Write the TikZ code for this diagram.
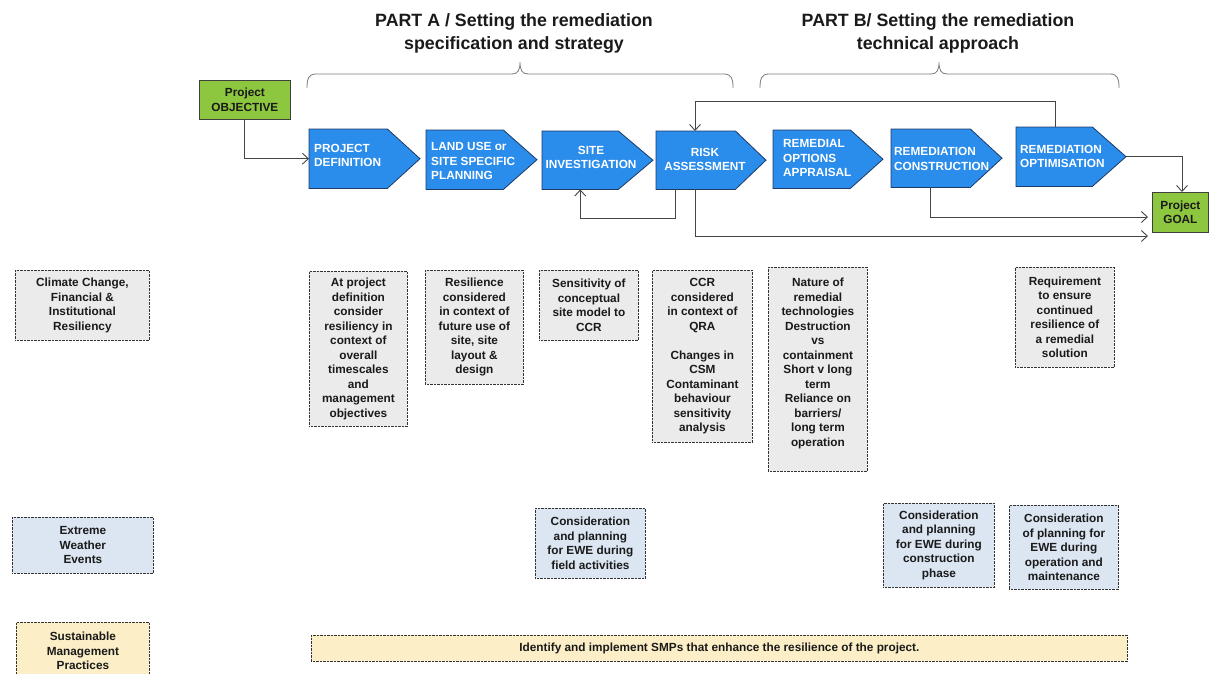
\documentclass[tikz,border=0pt]{standalone}
\usepackage{fontspec}
\setmainfont{Liberation Sans}
\usetikzlibrary{arrows.meta,calc}
\definecolor{chevblue}{HTML}{2A8CEB}
\definecolor{chevedge}{HTML}{1E3A66}
\definecolor{goalgreen}{HTML}{8DC63F}
\definecolor{boxgrey}{HTML}{EBEBEB}
\definecolor{boxblue}{HTML}{DCE6F2}
\definecolor{boxyellow}{HTML}{FCEFC7}
\definecolor{linegrey}{HTML}{454545}
\definecolor{bracegrey}{HTML}{7A7A7A}
\definecolor{txt}{HTML}{1A1A1A}
\begin{document}
\begin{tikzpicture}[x=1pt,y=-1pt,
  every node/.style={font=\bfseries\fontsize{11.8}{14.5}\selectfont, align=center, inner sep=0pt, text=txt},
  chevbody/.style={anchor=north west},
  chevshape/.style={fill=chevblue, draw=chevedge, line width=0.8pt, line join=miter},
  chevtext/.style={text=white},
  infobox/.style={draw=black!80, dash pattern=on 0.7pt off 0.7pt, line width=0.8pt, anchor=north west},
  greybox/.style={infobox, fill=boxgrey},
  bluebox/.style={infobox, fill=boxblue},
  yellowbox/.style={infobox, fill=boxyellow},
  greenbox/.style={fill=goalgreen, draw=black!75, line width=0.8pt, anchor=north west},
  conn/.style={draw=linegrey, line width=0.9pt},
  arr/.style={conn, -{Straight Barb[length=6pt,width=11pt]}},
  bracepath/.style={draw=bracegrey, line width=0.8pt},
  header/.style={font=\bfseries\fontsize{17.8}{23}\selectfont}
]
\useasboundingbox[fill=white] (0,0) rectangle (1211,673);

% headers
\node[header] (hA) at (514,33) {PART A / Setting the remediation\\specification and strategy};
\node[header] (hB) at (938,33) {PART B/ Setting the remediation\\technical approach};

% braces
\draw[bracepath] (307,88) .. controls (307,78) and (309,74) .. (316,74) -- (512,74)
  .. controls (518,74) and (520,70) .. (520,62) .. controls (520,70) and (522,74) .. (528,74)
  -- (724,74) .. controls (731,74) and (733,78) .. (733,88);
\draw[bracepath] (760,88) .. controls (760,78) and (762,74) .. (769,74) -- (931,74)
  .. controls (937,74) and (939,70) .. (939,62) .. controls (939,70) and (941,74) .. (947,74)
  -- (1110,74) .. controls (1117,74) and (1119,78) .. (1119,88);

% objective and goal
\node[greenbox, minimum width=91pt, minimum height=39pt] (obj) at (199,80) {};
\node (objt) at (obj.center) {Project\\OBJECTIVE};
\node[greenbox, minimum width=56pt, minimum height=40pt] (goal) at (1152,192) {};
\node (goalt) at (goal.center) {Project\\GOAL};

% chevrons
\node[chevbody, minimum width=78pt, minimum height=59pt] (pd) at (309,129) {};
\draw[chevshape] (pd.north west) -- (pd.north east) -- (420,0 |- pd.east) -- (pd.south east) -- (pd.south west) -- cycle;
\node[chevtext, anchor=west, align=left] (pdt) at (314,155.5) {PROJECT\\DEFINITION};

\node[chevbody, minimum width=77pt, minimum height=59pt] (lu) at (426,130) {};
\draw[chevshape] (lu.north west) -- (lu.north east) -- (537,0 |- lu.east) -- (lu.south east) -- (lu.south west) -- cycle;
\node[chevtext, anchor=west, align=left] (lut) at (431,161) {LAND USE or\\SITE SPECIFIC\\PLANNING};

\node[chevbody, minimum width=76pt, minimum height=58pt] (si) at (542,131) {};
\draw[chevshape] (si.north west) -- (si.north east) -- (653,0 |- si.east) -- (si.south east) -- (si.south west) -- cycle;
\node[chevtext] (sit) at (591,157.5) {SITE\\INVESTIGATION};

\node[chevbody, minimum width=79pt, minimum height=58pt] (ra) at (656,131) {};
\draw[chevshape] (ra.north west) -- (ra.north east) -- (766,0 |- ra.east) -- (ra.south east) -- (ra.south west) -- cycle;
\node[chevtext] (rat) at (705,159.5) {RISK\\ASSESSMENT};

\node[chevbody, minimum width=77pt, minimum height=58pt] (ro) at (773,130) {};
\draw[chevshape] (ro.north west) -- (ro.north east) -- (883,0 |- ro.east) -- (ro.south east) -- (ro.south west) -- cycle;
\node[chevtext, anchor=west, align=left] (rot) at (783,158) {REMEDIAL\\OPTIONS\\APPRAISAL};

\node[chevbody, minimum width=79pt, minimum height=58pt] (rc) at (891,129) {};
\draw[chevshape] (rc.north west) -- (rc.north east) -- (1002,0 |- rc.east) -- (rc.south east) -- (rc.south west) -- cycle;
\node[chevtext, anchor=west, align=left] (rct) at (894,159) {REMEDIATION\\CONSTRUCTION};

\node[chevbody, minimum width=76pt, minimum height=59pt] (opt) at (1016,127) {};
\draw[chevshape] (opt.north west) -- (opt.north east) -- (1126,0 |- opt.east) -- (opt.south east) -- (opt.south west) -- cycle;
\node[chevtext, anchor=west, align=left] (optt) at (1020,156.5) {REMEDIATION\\OPTIMISATION};

% connector helper coordinates
\coordinate (opttip) at (1126,0 |- opt.east);
\coordinate (fbstart) at (1055,0 |- opt.north);
\coordinate (fbend) at (695,0 |- ra.north);
\coordinate (lpstart) at (675,0 |- ra.south);
\coordinate (lpcorner) at (675,218);
\coordinate (lgstart) at (695,0 |- ra.south);
\coordinate (lgin) at (goal.west |- 0,236);
\coordinate (rcstart) at (930,0 |- rc.south);
\coordinate (rcin) at (goal.west |- 0,217);
\coordinate (ogcorner) at (1182,0 |- opttip);
\coordinate (ogin) at (1182,0 |- goal.north);

% connectors
\draw[arr] (obj.south) |- (pd.west);
\draw[arr] (fbstart) -- (1055,101) -| (fbend);
\draw[arr] (lpstart) -- (lpcorner) -| (si.south);
\draw[arr] (lgstart) |- ([xshift=-4pt]lgin);
\draw[arr] (rcstart) |- ([xshift=-4pt]rcin);
\draw[arr] (opttip) -- (ogcorner) -- (ogin);

% row 1: climate change
\node[greybox, minimum width=134pt, minimum height=70pt] (cc) at (15,270) {Climate Change,\\Financial \&\\Institutional\\Resiliency};
\node[greybox, minimum width=98pt, minimum height=155pt] (b1) at (309,271) {At project\\definition\\consider\\resiliency in\\context of\\overall\\timescales\\and\\management\\objectives};
\node[greybox, minimum width=98pt, minimum height=114pt] (b2) at (425,270) {Resilience\\considered\\in context of\\future use of\\site, site\\layout \&\\design};
\node[greybox, minimum width=99pt, minimum height=70pt] (b3) at (539,270) {Sensitivity of\\conceptual\\site model to\\CCR};
\node[greybox, minimum width=100pt, minimum height=172pt] (b4) at (652,270) {CCR\\considered\\in context of\\QRA\\[14.5pt]Changes in\\CSM\\Contaminant\\behaviour\\sensitivity\\analysis};
\node[greybox, minimum width=99pt, minimum height=204pt] (b5) at (768,267) {Nature of\\remedial\\technologies\\Destruction\\vs\\containment\\Short v long\\term\\Reliance on\\barriers/\\long term\\operation\\\mbox{}};
\node[greybox, minimum width=99pt, minimum height=100pt] (b6) at (1015,267) {Requirement\\to ensure\\continued\\resilience of\\a remedial\\solution};

% row 2: extreme weather
\node[bluebox, minimum width=141pt, minimum height=56pt] (ewe) at (12,517) {Extreme\\Weather\\Events};
\node[bluebox, minimum width=110pt, minimum height=70pt] (fa) at (535,508) {Consideration\\and planning\\for EWE during\\field activities};
\node[bluebox, minimum width=111pt, minimum height=84pt] (cp) at (883,503) {Consideration\\and planning\\for EWE during\\construction\\phase};
\node[bluebox, minimum width=109pt, minimum height=84pt] (om) at (1009,505) {Consideration\\of planning for\\EWE during\\operation and\\maintenance};

% row 3: sustainable management
\node[yellowbox, minimum width=133pt, minimum height=57pt] (smp) at (16,622) {Sustainable\\Management\\Practices};
\node[yellowbox, minimum width=816pt, minimum height=26pt] (bar) at (311,635) {Identify and implement SMPs that enhance the resilience of the project.};
\end{tikzpicture}
\end{document}
